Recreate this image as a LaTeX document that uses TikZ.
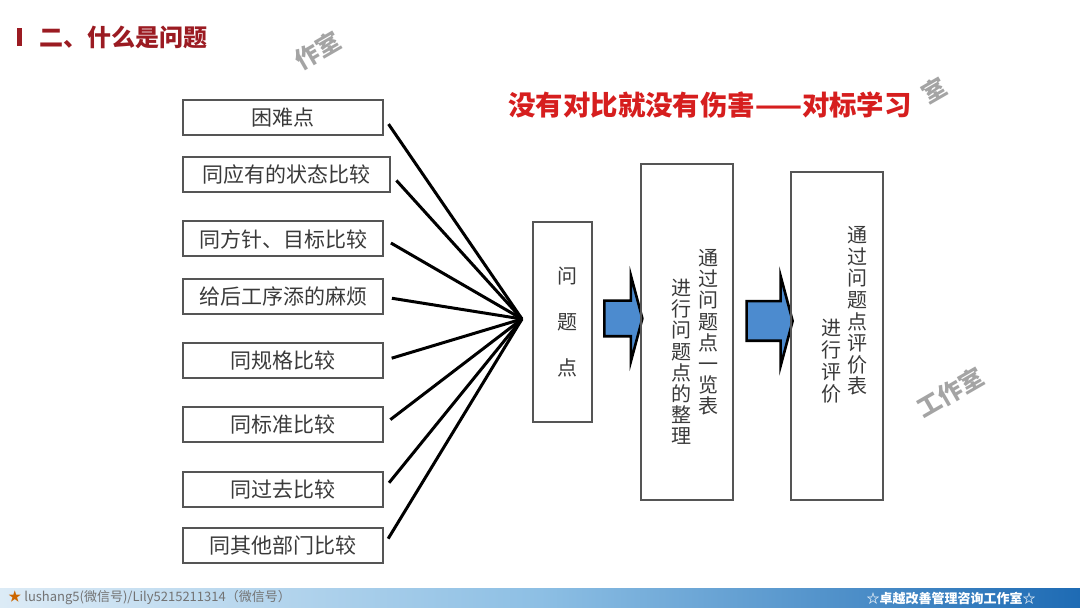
\documentclass[tikz,border=0pt]{standalone}
\usepackage{fontspec}
\usepackage{xcolor}
\usepackage{tikz}
\usetikzlibrary{arrows.meta,calc,shapes.arrows,positioning}
\newfontfamily\cjk{Noto Sans CJK SC}
\definecolor{titleRed}{HTML}{9B1B22}
\definecolor{headRed}{HTML}{D61E1E}
\definecolor{boxGray}{HTML}{555555}
\definecolor{txtGray}{HTML}{3A3A3A}
\definecolor{arrowBlue}{HTML}{4C8BCF}
\definecolor{barLight}{HTML}{DCEBF6}
\definecolor{barMid}{HTML}{8DBFE4}
\definecolor{barDark}{HTML}{1E6BB4}
\definecolor{markGray}{HTML}{A4A4A4}

\begin{document}
\begin{tikzpicture}[
  x=0.5pt, y=-0.5pt,
  cbox/.style={rectangle, draw=boxGray, line width=1pt, minimum width=100pt, minimum height=17.5pt, inner sep=0pt, text=txtGray, font=\cjk\fontsize{10.5pt}{12pt}\selectfont},
  vbox/.style={rectangle, draw=boxGray, line width=1pt, inner sep=0pt},
  vtxt/.style={align=center, inner sep=0pt, text=txtGray, font=\cjk\fontsize{10pt}{10.6pt}\selectfont},
  spoke/.style={black, line width=1.5pt, shorten <=4pt},
  bigarrow/.style={single arrow, draw=black, line width=1.3pt, fill=arrowBlue, inner xsep=0pt, inner ysep=8.25pt, single arrow head extend=12.5pt, single arrow tip angle=150},
  wmark/.style={text=markGray, font=\cjk\bfseries\fontsize{12pt}{12pt}\selectfont, rotate=30, inner sep=0pt}
]
\useasboundingbox (0,0) rectangle (1080,608);
\fill[white] (0,0) rectangle (1080,608);

% title
\fill[titleRed] (17,28) rectangle (22,46);
\node[anchor=west, inner sep=0pt, text=titleRed, font=\cjk\bfseries\fontsize{12pt}{12pt}\selectfont] (title) at (39,37) {二、什么是问题};
\node[anchor=center, inner sep=0pt, text=headRed, font=\cjk\bfseries\fontsize{13.7pt}{14pt}\selectfont] (slogan) at (710,105) {没有对比就没有伤害——对标学习};

% watermarks
\node[wmark] (wm1) at (318,50) {作室};
\node[wmark] (wm2) at (934,90) {室};
\node[wmark] (wm3) at (950,392) {工作室};

% left list
\node[cbox] (b1) at (283,117.5) {困难点};
\node[cbox, minimum width=103.5pt] (b2) at (286.5,174.5) {同应有的状态比较};
\node[cbox] (b3) at (283,239) {同方针、目标比较};
\node[cbox] (b4) at (283,297) {给后工序添的麻烦};
\node[cbox] (b5) at (283,360.5) {同规格比较};
\node[cbox] (b6) at (283,424.5) {同标准比较};
\node[cbox] (b7) at (283,489) {同过去比较};
\node[cbox] (b8) at (283,545.5) {同其他部门比较};

% spokes into the hub
\coordinate (hub) at (522,319);
\foreach \b in {b1,b2,b3,b4,b5,b6,b7,b8}
  \draw[spoke] (\b.east) -- (hub);

% problem point box
\node[vbox, minimum width=29.5pt, minimum height=100pt] (pp) at (562.5,322) {};
\node[vtxt, font=\cjk\fontsize{10pt}{23pt}\selectfont] (ppt) at (567,322) {问\\题\\点};

% arrow 1
\node[bigarrow, minimum height=19pt] (ar1) at (621,318.5) {};

% list box
\node[vbox, minimum width=46pt, minimum height=168pt] (tbl) at (687,332) {};
\node[vtxt] (tbl1) at (708,332.5) {通\\过\\问\\题\\点\\一\\览\\表};
\node[vtxt] (tbl2) at (681,362) {进\\行\\问\\题\\点\\的\\整\\理};

% arrow 2
\node[bigarrow, minimum height=23pt, inner ysep=9.25pt] (ar2) at (767,321) {};

% evaluation box
\node[vbox, minimum width=46pt, minimum height=164pt] (evl) at (837,336) {};
\node[vtxt, font=\cjk\fontsize{10pt}{10.8pt}\selectfont] (evl1) at (857,311) {通\\过\\问\\题\\点\\评\\价\\表};
\node[vtxt, font=\cjk\fontsize{10pt}{11pt}\selectfont] (evl2) at (831,361) {进\\行\\评\\价};

% footer bar
\shade[left color=barLight, right color=barDark, middle color=barMid] (0,588) rectangle (1080,608);
\node[anchor=west, inner sep=0pt, text=black!55, font=\cjk\fontsize{6.5pt}{7pt}\selectfont] (foot1) at (8,598) {{\color{orange!80!black}★} lushang5(微信号)/Lily5215211314（微信号）};
\node[anchor=east, inner sep=0pt, text=white, font=\cjk\bfseries\fontsize{6.5pt}{7pt}\selectfont] (foot2) at (1036,598) {☆卓越改善管理咨询工作室☆};
\end{tikzpicture}
\end{document}
